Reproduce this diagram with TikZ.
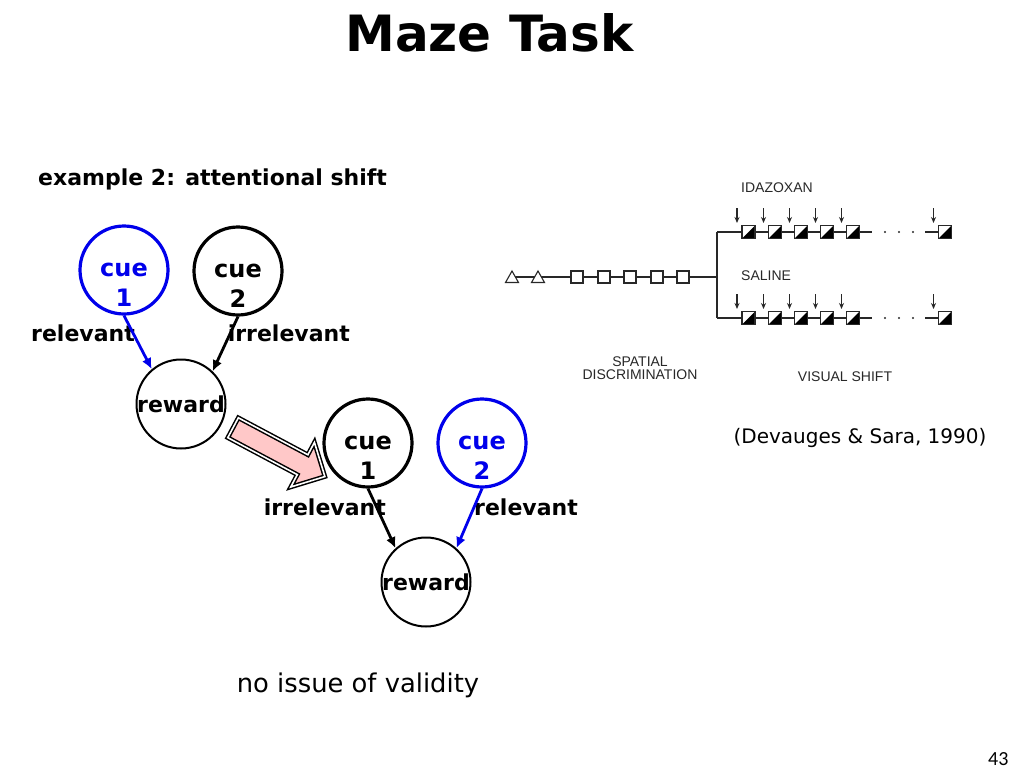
\documentclass[tikz,border=0pt]{standalone}
\usepackage{fontspec}
\setmainfont{DejaVu Sans}
\newfontfamily\figfont{Liberation Sans}
\newfontfamily\pagefont{Carlito}
\usetikzlibrary{shapes.arrows,arrows.meta}
\definecolor{cueblue}{RGB}{0,0,235}
\definecolor{shiftpink}{RGB}{255,200,200}
\definecolor{figgray}{RGB}{40,40,40}

\begin{document}
\begin{tikzpicture}[x=1pt,y=-1pt,
  cue/.style = {shape=circle, draw, line width=3.2pt, minimum size=88pt,
    inner sep=0pt, font=\fontsize{24}{28}\selectfont\bfseries},
  cuenum/.style = {anchor=base, inner sep=0pt, font=\fontsize{24}{28}\selectfont\bfseries},
  reward/.style = {shape=circle, draw, line width=2pt, minimum size=89pt,
    inner sep=0pt, font=\fontsize{22}{26}\selectfont\bfseries},
  lbl/.style = {inner sep=0pt, font=\fontsize{22}{26}\selectfont\bfseries},
  link/.style = {line width=2.8pt, -{Latex[length=11pt,width=10pt]}},
  bigarrow/.style = {single arrow, draw, double=white, double distance=1.6pt,
    line width=1.5pt, fill=shiftpink, minimum height=104pt, minimum width=50pt,
    single arrow head extend=14pt, inner sep=0pt, text height=21pt, text depth=0pt},
  figtext/.style = {inner sep=0pt, text=figgray, align=center,
    font=\figfont\fontsize{14}{12.5}\selectfont}]
\useasboundingbox[fill=white] (0,0) rectangle (1024,768);

\node[anchor=base, font=\fontsize{50}{60}\selectfont\bfseries] (title) at (489.5,52) {Maze Task};
\node[lbl, anchor=base west] (example) at (38,185) {example 2: attentional shift};

% before the shift
\node[cue, cueblue, text=cueblue] (cueA1) at (124,270) {cue};
\node[cuenum, text=cueblue] (numA1) at ([yshift=-30pt]cueA1.base) {1};
\node[cue] (cueA2) at (238,271) {cue};
\node[cuenum] (numA2) at ([yshift=-30pt]cueA2.base) {2};
\node[reward] (rewA) at (181,404) {reward};
\node[lbl, anchor=base west] (relA) at (31,341) {relevant};
\node[lbl, anchor=base east] (irrA) at (350,341) {irrelevant};
\draw[link, cueblue] (cueA1.south) -- (rewA.130);
\draw[link] (cueA2.south) -- (rewA.46);

% the shift
\node[bigarrow, rotate=-28] (shift) at (274,449.5) {};

% after the shift
\node[cue] (cueB1) at (368,443) {cue};
\node[cuenum] (numB1) at ([yshift=-30pt]cueB1.base) {1};
\node[cue, cueblue, text=cueblue] (cueB2) at (482,443) {cue};
\node[cuenum, text=cueblue] (numB2) at ([yshift=-30pt]cueB2.base) {2};
\node[reward] (rewB) at (426,582) {reward};
\node[lbl, anchor=base east] (irrB) at (386,515) {irrelevant};
\node[lbl, anchor=base west] (relB) at (474,515) {relevant};
\draw[link] (cueB1.south) -- (rewB.132);
\draw[link, cueblue] (cueB2.south) -- (rewB.48);

\node[anchor=base, font=\fontsize{25.8}{30}\selectfont] (validity) at (358,692) {no issue of validity};

% schedule figure
\begin{scope}[draw=figgray, line width=1.1pt]
  \draw (512,277) -- (717,277);
  \draw (717,232) -- (717,318);
  \foreach \px in {512,538}
    \filldraw[fill=white] (\px-6.5,282.5) -- (\px+6.5,282.5) -- (\px,271) -- cycle;
  \foreach \px in {577,604,630,657,683}
    \filldraw[fill=white] (\px-6,271) rectangle (\px+6,283);
  \foreach \py in {232,318} {
    \draw (717,\py) -- (872,\py);
    \draw (925,\py) -- (945,\py);
    \foreach \px in {885,899,913}
      \fill[figgray] (\px,\py) circle (1.2pt);
    \foreach \px in {748.5,775,801,827,853,945} {
      \fill[white] (\px-6.5,\py-6.5) rectangle (\px+6.5,\py+6.5);
      \fill[black] (\px-6.5,\py+6.5) -- (\px+6.5,\py+6.5) -- (\px+6.5,\py-6.5) -- cycle;
      \draw (\px-6.5,\py-6.5) rectangle (\px+6.5,\py+6.5);
      \draw[-{Stealth[length=6pt,width=5pt]}] (\px-11.5,\py-24) -- (\px-11.5,\py-9);
    }
  }
\end{scope}
\node[figtext, anchor=west] (idazoxan) at (741,188) {IDAZOXAN};
\node[figtext, anchor=west] (saline) at (741,276) {SALINE};
\node[figtext] (spatial) at (640,368) {SPATIAL\\DISCRIMINATION};
\node[figtext] (visual) at (845,377) {VISUAL SHIFT};

\node[anchor=base, font=\fontsize{20}{24}\selectfont] (source) at (860,443) {(Devauges \& Sara, 1990)};
\node[anchor=base east, font=\pagefont\fontsize{20}{24}\selectfont] (page) at (1012,765) {43};
\end{tikzpicture}
\end{document}
